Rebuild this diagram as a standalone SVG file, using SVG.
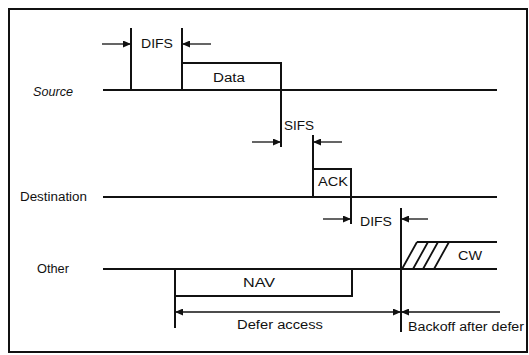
<svg xmlns="http://www.w3.org/2000/svg" width="529" height="355" viewBox="0 0 529 355">
<defs>
<style>
.t{font-family:"Liberation Sans",Arial,sans-serif;font-size:12px;fill:#111}
.ln{stroke:#111;stroke-width:2;fill:none}
.ar{stroke:#111;stroke-width:1.3;fill:none}
.h{stroke:#111;stroke-width:1.8;fill:none}
</style>
<marker id="ah" viewBox="0 0 8 7" refX="8" refY="3.5" markerWidth="8" markerHeight="7" markerUnits="userSpaceOnUse" orient="auto-start-reverse">
<path d="M0,0 L8,3.5 L0,7 z" fill="#111"/>
</marker>
</defs>
<rect x="0" y="0" width="529" height="355" fill="#fff"/>
<rect x="9" y="9" width="518" height="343" fill="none" stroke="#111" stroke-width="2"/>

<g id="source">
<text class="t" x="33" y="96" font-style="italic" textLength="40" lengthAdjust="spacingAndGlyphs">Source</text>
<path class="ln" d="M103,90 H497"/>
<path class="ln" d="M131,28 V90 M182,28 V90"/>
<path class="ln" d="M182,63 H281 V90"/>
<text class="t" x="213" y="82" textLength="32" lengthAdjust="spacingAndGlyphs">Data</text>
</g>

<g id="destination">
<text class="t" x="20" y="201" textLength="67" lengthAdjust="spacingAndGlyphs">Destination</text>
<path class="ln" d="M103,197 H497"/>
<path class="ln" d="M281,90 V147"/>
<path class="ln" d="M313,135 V197 M313,169 H351 V224"/>
<text class="t" x="318" y="186" textLength="30" lengthAdjust="spacingAndGlyphs">ACK</text>
</g>

<g id="other">
<text class="t" x="37" y="273" textLength="32" lengthAdjust="spacingAndGlyphs">Other</text>
<path class="ln" d="M103,269 H497"/>
<path class="ln" d="M175,269 V328 M175,296 H352 V269"/>
<text class="t" x="243" y="287" textLength="32" lengthAdjust="spacingAndGlyphs">NAV</text>
<path class="ln" d="M401,208 V332"/>
<path class="ln" d="M417,242 H497"/>
<path class="h" d="M402,269 L417,242 M413,269 L428,242 M423,269 L438,242 M434,269 L449,242"/>
<text class="t" x="458" y="260" textLength="24" lengthAdjust="spacingAndGlyphs">CW</text>
</g>

<g id="connectors">
<path class="ar" d="M102,44 H131" marker-end="url(#ah)"/>
<path class="ar" d="M211,44 H182" marker-end="url(#ah)"/>
<path class="ar" d="M252,142 H281" marker-end="url(#ah)"/>
<path class="ar" d="M342,142 H313" marker-end="url(#ah)"/>
<path class="ar" d="M323,219 H351" marker-end="url(#ah)"/>
<path class="ar" d="M428,219 H401" marker-end="url(#ah)"/>
<path class="ar" d="M175,312 H401" marker-start="url(#ah)" marker-end="url(#ah)"/>
<path class="ar" d="M500,312 H401" marker-end="url(#ah)"/>
</g>

<g id="labels">
<text class="t" x="141" y="48" textLength="32" lengthAdjust="spacingAndGlyphs">DIFS</text>
<text class="t" x="284" y="130" textLength="30" lengthAdjust="spacingAndGlyphs">SIFS</text>
<text class="t" x="360" y="226" textLength="32" lengthAdjust="spacingAndGlyphs">DIFS</text>
<text class="t" x="237" y="329" textLength="86" lengthAdjust="spacingAndGlyphs">Defer access</text>
<text class="t" x="408" y="331" textLength="116" lengthAdjust="spacingAndGlyphs">Backoff after defer</text>
</g>
</svg>
